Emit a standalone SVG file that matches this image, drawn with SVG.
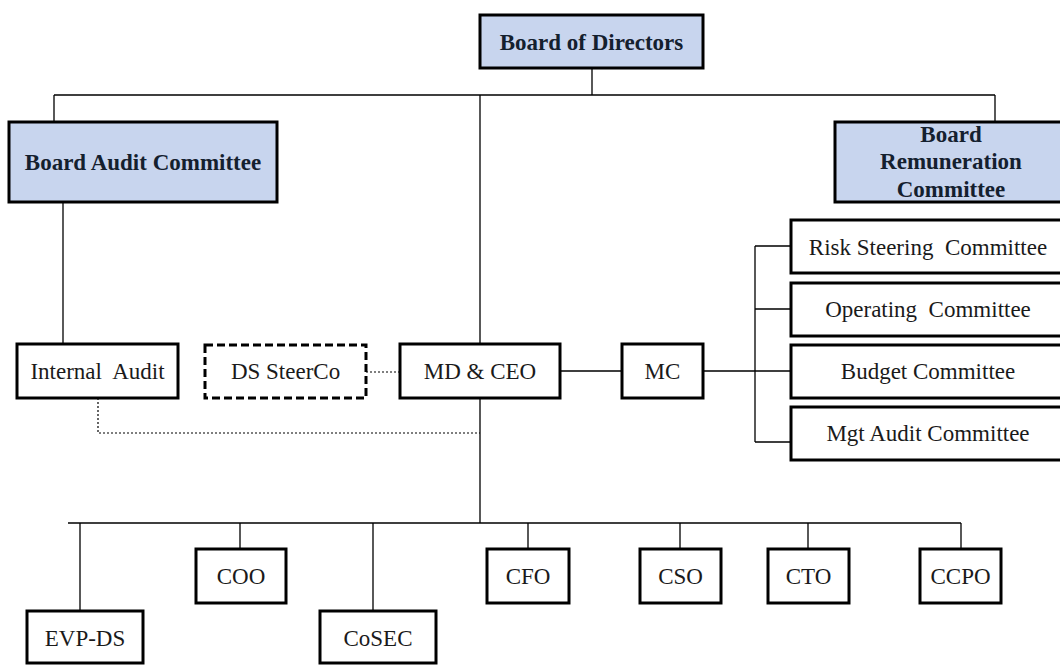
<svg xmlns="http://www.w3.org/2000/svg" width="1060" height="665" viewBox="0 0 1060 665">
<style>
  .box{fill:#fff;stroke:#000;stroke-width:3}
  .blue{fill:#c8d5ee;stroke:#000;stroke-width:3}
  .dash{fill:#fff;stroke:#000;stroke-width:3;stroke-dasharray:8 4}
  .t{font-family:"Liberation Serif","Times New Roman",serif;font-size:23px;fill:#1a1a1a;text-anchor:middle}
  .b{font-weight:bold;fill:#14202e}
  .ln{fill:none;stroke:#000;stroke-width:1.3}
  .dot{fill:none;stroke:#000;stroke-width:1.2;stroke-dasharray:2 2}
</style>
<rect width="1060" height="665" fill="#fff"/>
<g id="connectors">
  <path class="ln" d="M592 68V95M54 95H995M54 95V122M995 95V122M480 95V344"/>
  <path class="ln" d="M63 202V344"/>
  <path class="ln" d="M560 371H622M703 371H791M755 246V442M755 246H791M755 309H791M755 442H791"/>
  <path class="dot" d="M366 372H400M98 398V433H480"/>
  <path class="ln" d="M480 398V523M68 523H961"/>
  <path class="ln" d="M80 523V611M240 523V549M373 523V611M528 523V549M680 523V549M808 523V549M961 523V549"/>
</g>
<g id="board"><rect class="blue" x="480" y="15" width="223" height="53"/><text class="t b" x="591.500" y="50">Board of Directors</text></g>
<g id="audit-committee"><rect class="blue" x="9" y="122" width="268" height="80"/><text class="t b" x="143" y="170">Board Audit Committee</text></g>
<g id="remuneration"><rect class="blue" x="835" y="122" width="232" height="80"/><text class="t b" x="951"><tspan x="951" y="142">Board</tspan><tspan x="951" y="169">Remuneration</tspan><tspan x="951" y="197">Committee</tspan></text></g>
<g id="risk"><rect class="box" x="791" y="220" width="274" height="53"/><text class="t" x="928" y="255">Risk Steering&#160; Committee</text></g>
<g id="operating"><rect class="box" x="791" y="283" width="274" height="53"/><text class="t" x="928" y="317">Operating&#160; Committee</text></g>
<g id="budget"><rect class="box" x="791" y="345" width="274" height="53"/><text class="t" x="928" y="379">Budget Committee</text></g>
<g id="mgt-audit"><rect class="box" x="791" y="407" width="274" height="53"/><text class="t" x="928" y="441">Mgt Audit Committee</text></g>
<g id="internal-audit"><rect class="box" x="17" y="344" width="161" height="54"/><text class="t" x="97.500" y="379">Internal&#160; Audit</text></g>
<g id="ds-steerco"><rect class="dash" x="205" y="345" width="161" height="53"/><text class="t" x="285.500" y="379">DS SteerCo</text></g>
<g id="md-ceo"><rect class="box" x="400" y="344" width="160" height="54"/><text class="t" x="480" y="379">MD &amp; CEO</text></g>
<g id="mc"><rect class="box" x="622" y="344" width="81" height="54"/><text class="t" x="662.500" y="379">MC</text></g>
<g id="evp-ds"><rect class="box" x="27" y="611" width="116" height="52"/><text class="t" x="85" y="646">EVP-DS</text></g>
<g id="coo"><rect class="box" x="196" y="549" width="90" height="54"/><text class="t" x="241" y="584">COO</text></g>
<g id="cosec"><rect class="box" x="320" y="611" width="116" height="52"/><text class="t" x="378" y="646">CoSEC</text></g>
<g id="cfo"><rect class="box" x="487" y="549" width="82" height="54"/><text class="t" x="528" y="584">CFO</text></g>
<g id="cso"><rect class="box" x="640" y="549" width="81" height="54"/><text class="t" x="680.500" y="584">CSO</text></g>
<g id="cto"><rect class="box" x="768" y="549" width="81" height="54"/><text class="t" x="808.500" y="584">CTO</text></g>
<g id="ccpo"><rect class="box" x="920" y="549" width="81" height="54"/><text class="t" x="960.500" y="584">CCPO</text></g>
</svg>
